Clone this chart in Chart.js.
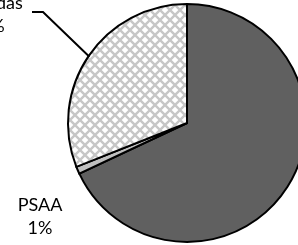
<!DOCTYPE html>
<html>
<head>
<meta charset="utf-8">
<script src="https://cdn.jsdelivr.net/npm/chart.js@4.4.0/dist/chart.umd.min.js"></script>
<style>
  html, body { margin: 0; padding: 0; background: #ffffff; overflow: hidden; width: 298px; height: 245px; }
  #wrap { position: absolute; left: 0; top: 0; width: 310px; height: 245px; }
</style>
</head>
<body>
<div id="wrap"><canvas id="c" width="310" height="245"></canvas></div>
<script>
const categories = ["Outros", "PSAA", "Vendidas"];
const values = [68, 1, 31];
const labelTexts = [["Outros", "68%"], ["PSAA", "1%"], ["Vendidas", "31%"]];

function makeHatch() {
  const p = document.createElement('canvas');
  const s = 10;
  p.width = s; p.height = s;
  const g = p.getContext('2d');
  g.fillStyle = '#ffffff';
  g.fillRect(0, 0, s, s);
  g.strokeStyle = '#c6c6c6';
  g.lineWidth = 2.4;
  g.beginPath();
  g.moveTo(-1, -1); g.lineTo(s + 1, s + 1);
  g.moveTo(-1, s + 1); g.lineTo(s + 1, -1);
  g.stroke();
  return g.createPattern(p, 'repeat');
}
const ctx0 = document.getElementById('c').getContext('2d');
const hatch = makeHatch();

const labelPlugin = {
  id: 'pieLabels',
  afterDatasetsDraw(chart) {
    const ctx = chart.ctx;
    const arcs = chart.getDatasetMeta(0).data;
    ctx.save();
    ctx.font = '18px Lato, "Open Sans", sans-serif';
    ctx.fillStyle = '#000000';
    ctx.textAlign = 'center';
    ctx.textBaseline = 'alphabetic';
    const lh = 23;
    // hatched slice label with leader line
    const a = arcs[2];
    const mid = (a.startAngle + a.endAngle) / 2;
    const cx = a.x, cy = a.y, r = a.outerRadius;
    const px = cx + Math.cos(mid) * (r - 1), py = cy + Math.sin(mid) * (r - 1);
    const ex = cx - 144, ey = cy - 111;
    ctx.strokeStyle = '#000000';
    ctx.lineWidth = 2;
    ctx.beginPath();
    ctx.moveTo(px, py);
    ctx.lineTo(ex, ey);
    ctx.lineTo(ex - 11, ey);
    ctx.stroke();
    const tx = ex - 11 - 45;
    ctx.fillText(labelTexts[2][0], tx, ey - 3);
    ctx.fillText(labelTexts[2][1], tx, ey - 3 + lh);
    // PSAA label
    const b = arcs[1];
    const bx = b.x - 147, by = b.y + 88;
    ctx.fillText(labelTexts[1][0], bx, by);
    ctx.fillText(labelTexts[1][1], bx, by + lh);
    ctx.restore();
  }
};

new Chart(ctx0, {
  type: 'pie',
  data: {
    labels: categories,
    datasets: [{
      data: values,
      backgroundColor: ['#606060', '#c0c0c0', hatch],
      borderColor: '#000000',
      borderWidth: 2,
      borderJoinStyle: 'miter'
    }]
  },
  options: {
    responsive: false,
    animation: false,
    layout: { padding: { left: 67, right: 3, top: 3, bottom: 2 } },
    plugins: { legend: { display: false }, tooltip: { enabled: false } }
  },
  plugins: [labelPlugin]
});
</script>
</body>
</html>
